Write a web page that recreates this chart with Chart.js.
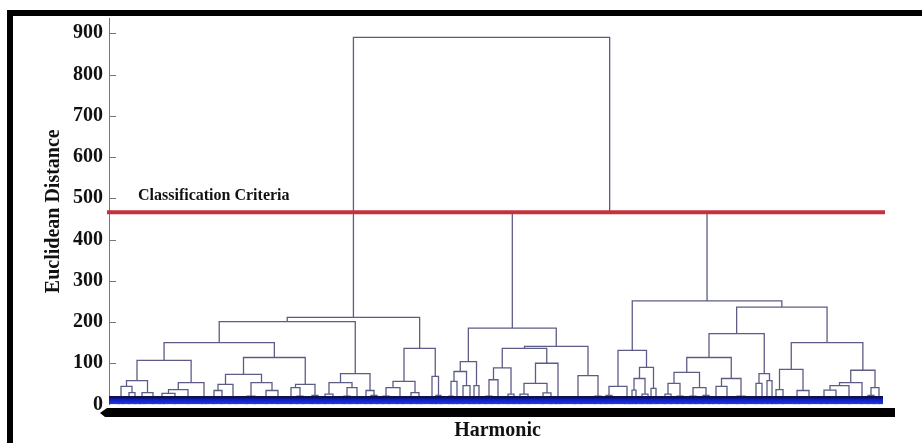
<!DOCTYPE html>
<html>
<head>
<meta charset="utf-8">
<script src="https://cdn.jsdelivr.net/npm/chart.js@4.4.0/dist/chart.umd.min.js"></script>
<style>
  html, body { margin: 0; padding: 0; background: #fff; width: 922px; height: 443px; overflow: hidden; }
  #frame { position: absolute; left: 7px; top: 10px; width: 915px; height: 433px;
           border-left: 6px solid #000; border-top: 6px solid #000; box-sizing: border-box; }
  canvas { display: block; }
</style>
</head>
<body>
<div id="frame"><canvas id="c" width="909" height="427"></canvas></div>
<script>
// y axis ticks and reference values
const yTicks = [0, 100, 200, 300, 400, 500, 600, 700, 800, 900];
const criterion = 466;      // classification criteria line
const rootHeight = 890;     // final merge
const rightMergeHeight = 466;
const bandHeight = 18;      // dense low-level merges drawn as a band
const harmonicMax = 194.25;

// subtrees: [height, left, right], leaves are harmonic positions
const clusterA = [211,
  [201,
    [150,
      [107,
        [58,
          [44, [15, 2.5, 3.5], [29, 5, 6.5]],
          [29, [18, 7.75, 8.75], 11]],
        [53,
          [36, [27, [14, 12.75, 13.75], 16.5], 19.75],
          [12, 23.25, 24.25]]],
      [114,
        [73,
          [49, [34, 26.25, 28.25], [18, 30.25, 31.75]],
          [53, [20, 34.5, 36.5], [34, 39.25, 42.25]]],
        [49,
          [41, 45.5, [20, 47, 48.5]],
          [22, 50.75, 52.25]]]],
    [75,
      [53, [25, 54, 56], [41, [20, 58.75, 60.25], 62]],
      [34, 64.25, [22, 65.5, 67]]]],
  [136,
    [56,
      [41, [20, 68.5, 70], [18, 72, 73.5]],
      [29, 75.5, [15, 77, 78]]],
    [68, 80.75, [22, 81.75, 83]]]];

const clusterB = [185,
  [104,
    [80,
      [56, [20, 85, 86], 87],
      [46, 88.5, 90.25]],
    [46, 91.25, 92.5]],
  [141,
    [136,
      [89,
        [60, [20, 94.25, 95.75], 97.25],
        [25, 99.75, 101.25]],
      [100,
        [51, [25, 102.75, 104.75], [28, 108.5, 110.5]],
        [15, 111.75, 112.75]]],
    [70, [18, 116.5, 118], [20, 121.5, 123]]]];

const clusterC = [251,
  [131,
    [44, [22, 124.25, 125.75], [18, 129, 130]],
    [90,
      [63, [35, 130.75, 131.75], [25, 133.25, 134.75]],
      [39, 135.5, 136.75]]],
  [236,
    [172,
      [114,
        [78,
          [51, [25, 139, 140.5], [20, 142, 143.5]],
          [41, [20, 145.25, 146.75], [22, 148.5, 150]]],
        [63,
          [44, [18, 151, 152.5], 154.5],
          [20, 157, 159]]],
      [75, [51, 161.75, 163.25], [58, 164.5, 165.75]]],
    [150,
      [85, [36, 166.75, 168.5], [34, [15, 171.5, 172.5], 175]],
      [83,
        [53, [46, [35, [18, 178, 179.5], 181.75], 185], 188.25],
        [41, [22, 189.75, 191.25], 192.5]]]]];

const tree = [rootHeight, clusterA, [rightMergeHeight, clusterB, clusterC]];

// walk the tree into U-shaped link segments separated by gaps
const linkPoints = [];
function walk(node) {
  if (typeof node === 'number') return { x: node, h: 0 };
  const a = walk(node[1]);
  const b = walk(node[2]);
  linkPoints.push({ x: a.x, y: a.h }, { x: a.x, y: node[0] },
                  { x: b.x, y: node[0] }, { x: b.x, y: b.h }, { x: b.x, y: null });
  return { x: (a.x + b.x) / 2, h: node[0] };
}
walk(tree);

const serif = 'Liberation Serif';

const decor = {
  id: 'decor',
  afterDraw(chart) {
    const { ctx, chartArea: area, scales: { x, y } } = chart;
    ctx.save();
    // inner tick marks
    ctx.strokeStyle = '#777';
    ctx.lineWidth = 1;
    yTicks.forEach(v => {
      if (v === 0) return;
      const py = Math.round(y.getPixelForValue(v)) + 0.5;
      ctx.beginPath();
      ctx.moveTo(area.left, py);
      ctx.lineTo(area.left + 7, py);
      ctx.stroke();
    });
    // criterion label
    ctx.fillStyle = '#111';
    ctx.font = 'bold 16px "' + serif + '"';
    ctx.textBaseline = 'middle';
    ctx.fillText('Classification Criteria', x.getPixelForValue(7.25), y.getPixelForValue(505));
    // packed leaf labels
    const x0 = x.getPixelForValue(-2.25), x1 = x.getPixelForValue(196.5);
    const top = area.bottom + 3.5, bot = area.bottom + 12.5;
    ctx.beginPath();
    ctx.moveTo(x0, top + 5);
    ctx.lineTo(x0 + 7, top);
    ctx.lineTo(x1, top);
    ctx.lineTo(x1, bot);
    ctx.lineTo(x0 + 5, bot);
    ctx.closePath();
    ctx.fillStyle = '#000';
    ctx.fill();
    ctx.restore();
  }
};

function bandFill(c) {
  const chart = c.chart;
  if (!chart.chartArea) return '#1424c0';
  const y = chart.scales.y;
  const g = chart.ctx.createLinearGradient(0, y.getPixelForValue(bandHeight), 0, y.getPixelForValue(0));
  g.addColorStop(0, '#0a0a50');
  g.addColorStop(0.35, '#1020b8');
  g.addColorStop(0.8, '#1a30e0');
  g.addColorStop(1, '#3448d0');
  return g;
}

new Chart(document.getElementById('c'), {
  type: 'line',
  data: {
    datasets: [
      { data: linkPoints, borderColor: '#5c5c86', borderWidth: 1.3, pointRadius: 0,
        spanGaps: false, tension: 0, order: 2 },
      { data: [{ x: 0, y: bandHeight }, { x: 193.5, y: bandHeight }], fill: 'origin',
        backgroundColor: bandFill, borderColor: '#10104e', borderWidth: 2, pointRadius: 0, order: 1 },
      { data: [{ x: -0.5, y: criterion }, { x: 194, y: criterion }], borderColor: '#c3323d',
        borderWidth: 4, pointRadius: 0, order: 0, clip: false }
    ]
  },
  options: {
    responsive: false,
    devicePixelRatio: 1,
    animation: false,
    layout: { padding: { top: 2, right: 36, bottom: 0, left: 0 } },
    plugins: { legend: { display: false }, tooltip: { enabled: false } },
    scales: {
      x: {
        type: 'linear', min: 0, max: harmonicMax,
        grid: { display: false, drawTicks: false }, border: { display: false }, ticks: { display: false },
        title: { display: true, text: 'Harmonic', color: '#111',
                 font: { family: serif, size: 20, weight: 'bold' }, padding: { top: 0, bottom: 0 } },
        afterFit(s) { s.height = 38.5; s.paddingLeft = 0; s.paddingRight = 0; }
      },
      y: {
        min: 0, max: 937,
        grid: { display: false, drawTicks: false },
        border: { display: true, color: '#777', width: 1 },
        afterBuildTicks(s) { s.ticks = yTicks.map(v => ({ value: v })); },
        ticks: { color: '#111', padding: 6, font: { family: serif, size: 20, weight: 'bold' } },
        title: { display: true, text: 'Euclidean Distance', color: '#111',
                 font: { family: serif, size: 20, weight: 'bold' }, padding: { top: 29, bottom: 0 } },
        afterFit(s) { s.width = 96; s.paddingTop = 0; s.paddingBottom = 0; }
      }
    }
  },
  plugins: [decor]
});
</script>
</body>
</html>
